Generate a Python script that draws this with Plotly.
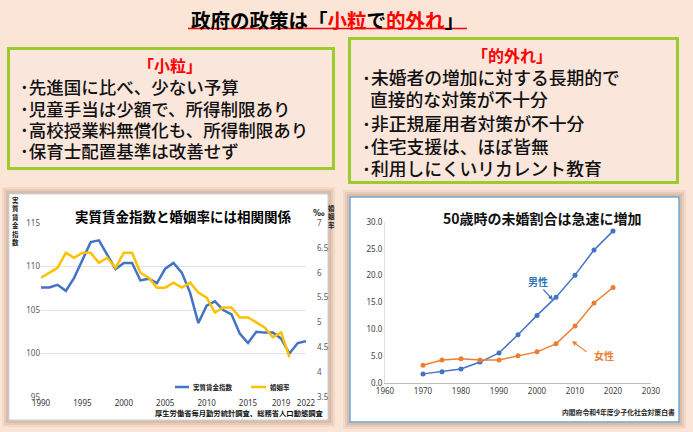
import plotly.graph_objects as go

W, H = 693, 432

# ---- data ----
wage_years = list(range(1990, 2023))
wage_index = [107.6, 107.6, 107.9, 107.2, 108.7, 110.8, 112.8, 113.0, 111.4, 109.7,
              110.4, 110.4, 108.4, 108.6, 108.1, 109.75, 110.4, 109.3, 107.0, 103.5,
              105.5, 106.0, 105.0, 104.5, 102.3, 101.2, 102.5, 102.4, 102.4, 101.7,
              100.0, 101.2, 101.4]
marriage_years = list(range(1990, 2021))
marriage_rate = [5.9, 6.0, 6.1, 6.4, 6.3, 6.4, 6.4, 6.2, 6.3, 6.1,
                 6.4, 6.4, 6.0, 5.9, 5.7, 5.7, 5.8, 5.7, 5.8, 5.6,
                 5.5, 5.2, 5.3, 5.3, 5.1, 5.1, 5.0, 4.9, 4.7, 4.8, 4.3]
wage_xticks = [1990, 1995, 2000, 2005, 2010, 2015, 2019, 2022]
wage_yticks = [95, 100, 105, 110, 115]
rate_yticks = [3.5, 4, 4.5, 5, 5.5, 6, 6.5, 7]
rate_ticktext = ["3.5", "4", "4.5", "5", "5.5", "6", "6.5", "7"]

unmarried_years = [1970, 1975, 1980, 1985, 1990, 1995, 2000, 2005, 2010, 2015, 2020]
unmarried_male = [1.7, 2.1, 2.6, 3.9, 5.6, 9.0, 12.6, 16.0, 20.1, 24.8, 28.3]
unmarried_female = [3.3, 4.3, 4.5, 4.3, 4.3, 5.1, 5.8, 7.3, 10.6, 14.9, 17.8]
unm_xticks = [1960, 1970, 1980, 1990, 2000, 2010, 2020, 2030]
unm_yticks = [0, 5, 10, 15, 20, 25, 30]

left_items = ["･先進国に比べ、少ない予算",
              "･児童手当は少額で、所得制限あり",
              "･高校授業料無償化も、所得制限あり",
              "･保育士配置基準は改善せず"]
right_items = ["･未婚者の増加に対する長期的で",
               "  直接的な対策が不十分",
               "･非正規雇用者対策が不十分",
               "･住宅支援は、ほぼ皆無",
               "･利用しにくいリカレント教育"]

JP = "Noto Sans CJK JP"
JPM = "Noto Sans CJK JP Medium, Noto Sans CJK JP"
BLUE = "#4472C4"
YELLOW = "#FFC000"
ORANGE = "#ED7D31"
GREEN = "#9CCB2E"
BG = "#FBE5D6"


def X(px):
    return px / W


def Y(py):
    return 1 - py / H


fig = go.Figure()

# left chart traces
fig.add_trace(go.Scatter(x=wage_years, y=wage_index, mode="lines", name="実質賃金指数",
                         line=dict(color=BLUE, width=2.5), xaxis="x", yaxis="y"))
fig.add_trace(go.Scatter(x=marriage_years, y=marriage_rate, mode="lines", name="婚姻率",
                         line=dict(color=YELLOW, width=2.5), xaxis="x", yaxis="y2"))
# right chart traces
fig.add_trace(go.Scatter(x=unmarried_years, y=unmarried_male, mode="lines+markers", name="男性",
                         line=dict(color=BLUE, width=1.5), marker=dict(size=5, color=BLUE),
                         xaxis="x3", yaxis="y3"))
fig.add_trace(go.Scatter(x=unmarried_years, y=unmarried_female, mode="lines+markers", name="女性",
                         line=dict(color=ORANGE, width=1.5), marker=dict(size=5, color=ORANGE),
                         xaxis="x3", yaxis="y3"))

shapes = []
# shadows for panels
for (x0, y0, x1, y1) in [(9, 194, 328, 420), (350, 197, 679, 422)]:
    for d, a in [(7, 0.10), (5, 0.14), (3, 0.18)]:
        shapes.append(dict(type="rect", xref="paper", yref="paper", layer="below",
                           x0=X(x0 - d), x1=X(x1 + d), y0=Y(y1 + d), y1=Y(y0 - d),
                           line=dict(width=0), fillcolor=f"rgba(170,120,90,{a})"))
# panels
shapes.append(dict(type="rect", xref="paper", yref="paper", layer="below",
                   x0=X(9), x1=X(328), y0=Y(420), y1=Y(194),
                   line=dict(color="#C5D3E8", width=1), fillcolor="white"))
shapes.append(dict(type="rect", xref="paper", yref="paper", layer="below",
                   x0=X(350), x1=X(679), y0=Y(422), y1=Y(197),
                   line=dict(color="#6FA8DC", width=1.5), fillcolor="white"))
# text boxes
shapes.append(dict(type="rect", xref="paper", yref="paper", layer="below",
                   x0=X(8.5), x1=X(333.5), y0=Y(168.5), y1=Y(48.5),
                   line=dict(color=GREEN, width=3), fillcolor="#FBE6DB"))
shapes.append(dict(type="rect", xref="paper", yref="paper", layer="below",
                   x0=X(349.5), x1=X(677.5), y0=Y(182.5), y1=Y(38.5),
                   line=dict(color=GREEN, width=3), fillcolor="#FBE6DB"))
# title underline
shapes.append(dict(type="line", xref="paper", yref="paper",
                   x0=X(188), x1=X(467), y0=Y(28.5), y1=Y(28.5),
                   line=dict(color="#FF0000", width=1.5)))
# legend samples left chart
shapes.append(dict(type="line", xref="paper", yref="paper",
                   x0=X(175), x1=X(189), y0=Y(387), y1=Y(387),
                   line=dict(color=BLUE, width=2.5)))
shapes.append(dict(type="line", xref="paper", yref="paper",
                   x0=X(251), x1=X(266), y0=Y(387), y1=Y(387),
                   line=dict(color=YELLOW, width=2.5)))

ann = []


def text(px, py, s, size, color="#000000", xanchor="center", bold=False, family=JP,
         height=None):
    f = dict(size=size, color=color, family=family)
    a = dict(x=X(px), y=Y(py), xref="paper", yref="paper", text=(f"<b>{s}</b>" if bold else s),
             showarrow=False, xanchor=xanchor, yanchor="middle", font=f)
    if height is not None:
        a["height"] = height
    ann.append(a)


# main title
text(327, 19, "政府の政策は「<span style='color:#FF0000'>小粒</span>で"
     "<span style='color:#FF0000'>的外れ</span>」", 19.5, bold=True)

# left box
text(170, 65, "「小粒」", 16, color="#FF0000", bold=True)
for i, s in enumerate(left_items):
    text(18, 87 + i * 21.2, s, 17.5, color="#111111", xanchor="left", family=JPM, height=19)
# right box
text(512, 55.5, "「的外れ」", 16, color="#FF0000", bold=True)
for i, (s, py) in enumerate(zip(right_items, [77, 99, 122, 145, 167])):
    text(360, py, s, 17.8, color="#111111", xanchor="left", family=JPM, height=19)

# left chart annotations
text(183, 216, "実質賃金指数と婚姻率には相関関係", 13.5, bold=True)
text(15, 221, "実<br>質<br>賃<br>金<br>指<br>数", 6.5, color="#222222", bold=True)
text(319, 213, "‰", 8, color="#222222", bold=True, family="DejaVu Sans")
text(331, 216, "婚<br>姻<br>率", 6.5, color="#222222", bold=True)
text(191, 387, "実質賃金指数", 6.5, color="#222222", xanchor="left", bold=True)
text(268, 387, "婚姻率", 6.5, color="#222222", xanchor="left", bold=True)
text(326, 413, "厚生労働省毎月勤労統計調査、総務省人口動態調査", 7.3, color="#111111",
     xanchor="right", bold=True)

# right chart annotations
text(542, 218, "50歳時の未婚割合は急速に増加", 14, color="#111111", bold=True)
text(538, 281, "男性", 10, color="#2E75B6", bold=True)
text(604, 355, "女性", 10, color=ORANGE, bold=True)
text(677, 412, "内閣府令和4年度少子化社会対策白書", 6.8, color="#222222", xanchor="right", bold=True)
# arrows
ann.append(dict(x=X(553), y=Y(300), xref="paper", yref="paper", text="", showarrow=True,
                ax=-11, ay=-12, arrowhead=2, arrowsize=0.8, arrowwidth=1.2, arrowcolor=BLUE))
ann.append(dict(x=X(572), y=Y(341), xref="paper", yref="paper", text="", showarrow=True,
                ax=16, ay=12, arrowhead=2, arrowsize=0.8, arrowwidth=1.2, arrowcolor=ORANGE))

tickfont_l = dict(size=8, color="#595959", family="Noto Sans")
common = dict(automargin=False, zeroline=False, ticks="")
fig.update_layout(
    template="none",
    width=W, height=H,
    margin=dict(l=0, r=0, t=0, b=0, pad=0, autoexpand=False),
    paper_bgcolor=BG, plot_bgcolor="rgba(0,0,0,0)",
    showlegend=False, hovermode=False,
    shapes=shapes, annotations=ann,
    xaxis=dict(domain=[X(41), X(306)], range=[1990, 2022], tickvals=wage_xticks,
               showgrid=False, showline=False, anchor="y",
               tickfont=dict(size=8, color="#333333", family="Noto Sans"), **common),
    yaxis=dict(domain=[Y(397), Y(223)], range=[95, 115], tickvals=wage_yticks,
               showgrid=True, gridcolor="#E3E3E3", gridwidth=1,
               showline=False, tickfont=tickfont_l, anchor="x", **common),
    yaxis2=dict(domain=[Y(397), Y(223)], range=[3.5, 7], tickvals=rate_yticks,
                ticktext=rate_ticktext, overlaying="y", side="right", anchor="x",
                showgrid=False, showline=False,
                ticklabelstandoff=10, tickfont=tickfont_l, **common),
    xaxis3=dict(domain=[X(385), X(651)], range=[1960, 2030], tickvals=unm_xticks,
                showgrid=False, showline=True, linecolor="#BFBFBF",
                linewidth=1, anchor="y3",
                tickfont=dict(size=8, color="#404040", family="Noto Sans"), **common),
    yaxis3=dict(domain=[Y(383), Y(222)], range=[0, 30], tickvals=unm_yticks,
                tickformat=".1f", showgrid=False, showline=True,
                linecolor="#E0E0E0", linewidth=1, anchor="x3",
                tickfont=dict(size=8, color="#404040", family="Noto Sans"), **common),
)

fig.write_html("out.html",
               config={"displayModeBar": False, "staticPlot": True},
               post_script="document.body.style.margin='0px';"
                           "document.body.style.overflow='hidden';")
